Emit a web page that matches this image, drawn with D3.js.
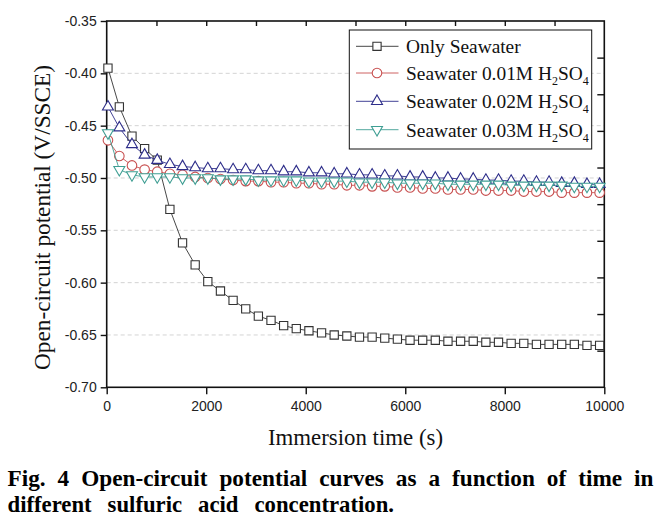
<!DOCTYPE html>
<html><head><meta charset="utf-8">
<script src="https://cdn.jsdelivr.net/npm/d3@7"></script>
<style>body{margin:0;background:#fff}</style>
</head><body><svg id="c" width="670" height="525"></svg>
<script>
// ---------- data ----------
const times = [25,254,508,762,1016,1270,1524,1778,2032,2286,2540,2794,3048,3302,3556,3810,4064,4318,4572,4826,5080,5334,5588,5842,6096,6350,6604,6858,7112,7366,7620,7874,8128,8382,8636,8890,9144,9398,9652,9906];
const onlySeawater = [-0.395,-0.432,-0.460,-0.472,-0.483,-0.530,-0.562,-0.583,-0.599,-0.608,-0.617,-0.625,-0.632,-0.636,-0.641,-0.644,-0.646,-0.648,-0.650,-0.651,-0.652,-0.652,-0.653,-0.654,-0.655,-0.655,-0.655,-0.656,-0.656,-0.656,-0.657,-0.657,-0.658,-0.658,-0.659,-0.659,-0.659,-0.659,-0.660,-0.660];
const sw001 = [-0.464,-0.479,-0.488,-0.492,-0.494,-0.496,-0.497,-0.499,-0.500,-0.501,-0.502,-0.503,-0.503,-0.504,-0.504,-0.505,-0.505,-0.506,-0.506,-0.507,-0.507,-0.508,-0.508,-0.509,-0.509,-0.510,-0.510,-0.511,-0.511,-0.511,-0.512,-0.512,-0.512,-0.513,-0.513,-0.513,-0.514,-0.514,-0.514,-0.514];
const sw002 = [-0.432,-0.452,-0.468,-0.478,-0.483,-0.487,-0.489,-0.490,-0.491,-0.491,-0.492,-0.492,-0.493,-0.493,-0.494,-0.494,-0.495,-0.495,-0.496,-0.496,-0.497,-0.497,-0.498,-0.498,-0.499,-0.499,-0.500,-0.500,-0.501,-0.501,-0.502,-0.502,-0.503,-0.503,-0.504,-0.504,-0.505,-0.505,-0.506,-0.506];
const sw003 = [-0.457,-0.492,-0.497,-0.499,-0.499,-0.499,-0.500,-0.500,-0.500,-0.501,-0.501,-0.501,-0.502,-0.502,-0.502,-0.502,-0.503,-0.503,-0.503,-0.503,-0.504,-0.504,-0.504,-0.505,-0.505,-0.505,-0.505,-0.506,-0.506,-0.506,-0.506,-0.506,-0.507,-0.507,-0.507,-0.507,-0.507,-0.508,-0.508,-0.508];
const seriesLabels = ["Only Seawater","Seawater 0.01M H|2|SO|4","Seawater 0.02M H|2|SO|4","Seawater 0.03M H|2|SO|4"];
const xTicks = [0,2000,4000,6000,8000,10000];
const xMinorTicks = [1000,2000,3000,4000,5000,6000,7000,8000,9000];
const yTicks = [-0.70,-0.65,-0.60,-0.55,-0.50,-0.45,-0.40,-0.35];
const gridTicks = [-0.65,-0.60,-0.55,-0.50,-0.45,-0.40];
const rightTicks = [-0.665,-0.63,-0.595,-0.56,-0.525,-0.49,-0.455,-0.42,-0.385];
const xTitle = "Immersion time (s)";
const yTitle = "Open-circuit potential (V/SSCE)";
const captionLines = ["Fig. 4 Open-circuit potential curves as a function of time in","different sulfuric acid concentration."];

// ---------- setup ----------
const svg = d3.select("#c");
const L = 106.7, R = 604.3, T = 21, B = 387.3;
const x = d3.scaleLinear().domain([0,10000]).range([L,R]);
const y = d3.scaleLinear().domain([-0.70,-0.35]).range([B,T]);
const SERIF = "'Liberation Serif','Times New Roman',serif";

const styles = [
  {data: onlySeawater, color:"#333333", sym:d3.symbolSquare, size:68, rot:0},
  {data: sw001, color:"#c85050", sym:d3.symbolCircle, size:72, rot:0},
  {data: sw002, color:"#2e2e8a", sym:d3.symbolTriangle, size:52, rot:0},
  {data: sw003, color:"#3f9e93", sym:d3.symbolTriangle, size:52, rot:180}
];

// grid
svg.append("g").selectAll("line").data(gridTicks).join("line")
  .attr("x1",L).attr("x2",R).attr("y1",d=>y(d)).attr("y2",d=>y(d))
  .attr("stroke","#c8c8c8").attr("stroke-width",0.8).attr("stroke-dasharray","4,3");

// axes
const fmtY = d => d.toFixed(2);
const gx = svg.append("g").attr("transform",`translate(0,${B})`)
  .call(d3.axisBottom(x).tickValues(xTicks).tickSize(7).tickPadding(7).tickFormat(d=>String(d)));
const gy = svg.append("g").attr("transform",`translate(${L},0)`)
  .call(d3.axisLeft(y).tickValues(yTicks).tickSize(6).tickPadding(4).tickFormat(fmtY));
const gt = svg.append("g").attr("transform",`translate(0,${T})`)
  .call(d3.axisTop(x).tickValues(xMinorTicks).tickSize(-5).tickFormat(""));
const gr = svg.append("g").attr("transform",`translate(${R},0)`)
  .call(d3.axisRight(y).tickValues(rightTicks).tickSize(-7).tickFormat(""));
[gx,gy,gt,gr].forEach(g=>{
  g.select(".domain").remove();
  g.selectAll(".tick line").attr("stroke","#111").attr("stroke-width",1.4);
  g.selectAll(".tick text").attr("fill","#222").attr("font-family","'Liberation Sans', Arial, sans-serif").attr("font-size",14);
});
svg.append("rect").attr("x",L).attr("y",T).attr("width",R-L).attr("height",B-T)
  .attr("fill","none").attr("stroke","#111").attr("stroke-width",1.6);

// series
const line = d3.line().x((d,i)=>x(times[i])).y(d=>y(d));
styles.forEach(s=>{
  const g = svg.append("g");
  g.append("path").datum(s.data).attr("d",line).attr("fill","none")
    .attr("stroke",s.color).attr("stroke-width",0.9);
  g.selectAll("path.m").data(s.data).join("path").attr("class","m")
    .attr("d",d3.symbol(s.sym,s.size))
    .attr("transform",(d,i)=>`translate(${x(times[i])},${y(d)}) rotate(${s.rot})`)
    .attr("fill","#fff").attr("stroke",s.color).attr("stroke-width",1.1);
});

// legend
svg.append("rect").attr("x",349.3).attr("y",30).attr("width",242.4).attr("height",119)
  .attr("fill","#fff").attr("stroke","#111").attr("stroke-width",1);
const rowBase = [53.3,80,108.3,136.7];
styles.forEach((s,i)=>{
  const cy = rowBase[i]-7;
  svg.append("line").attr("x1",356).attr("x2",398.5).attr("y1",cy).attr("y2",cy)
    .attr("stroke",s.color).attr("stroke-width",0.9);
  svg.append("path").attr("d",d3.symbol(s.sym,s.size))
    .attr("transform",`translate(377,${cy}) rotate(${s.rot})`)
    .attr("fill","#fff").attr("stroke",s.color).attr("stroke-width",1.1);
  const t = svg.append("text").attr("x",406).attr("y",rowBase[i])
    .attr("font-family",SERIF).attr("font-size",19.4).attr("fill","#111");
  const parts = seriesLabels[i].split("|");
  parts.forEach((p,k)=>{
    const sub = k%2===1;
    t.append("tspan").text(p).attr("font-size",sub?12:19.4)
      .attr("dy", k===0?0:(sub?5:-5));
  });
});

// axis titles
svg.append("text").attr("x",(L+R)/2).attr("y",445).attr("text-anchor","middle")
  .attr("font-family",SERIF).attr("font-size",22.5).attr("fill","#111")
  .attr("textLength",175).attr("lengthAdjust","spacingAndGlyphs")
  .text(xTitle);
svg.append("text").attr("transform","translate(50,217.5) rotate(-90)").attr("text-anchor","middle")
  .attr("font-family",SERIF).attr("font-size",23).attr("fill","#111")
  .attr("textLength",305).attr("lengthAdjust","spacingAndGlyphs")
  .text(yTitle);

// caption (justified)
function placeLine(str, x0, x1, yb, gapTarget){
  const words = str.split(" ");
  const nodes = words.map(w=>{
    const t = svg.append("text").attr("y",yb)
      .attr("font-family",SERIF).attr("font-weight","bold")
      .attr("font-size",22.5).attr("fill","#000").text(w);
    return {t, nat: t.node().getComputedTextLength()};
  });
  const natTotal = d3.sum(nodes,n=>n.nat);
  const k = (x1-x0-gapTarget*(nodes.length-1))/natTotal;
  let cx = x0;
  nodes.forEach(n=>{
    const wd = n.nat*k;
    n.t.attr("x",cx).attr("textLength",wd).attr("lengthAdjust","spacingAndGlyphs");
    cx += wd + gapTarget;
  });
}
placeLine(captionLines[0],7.5,653.5,486,12);
placeLine(captionLines[1],7.5,394,511.7,16);
</script></body></html>
